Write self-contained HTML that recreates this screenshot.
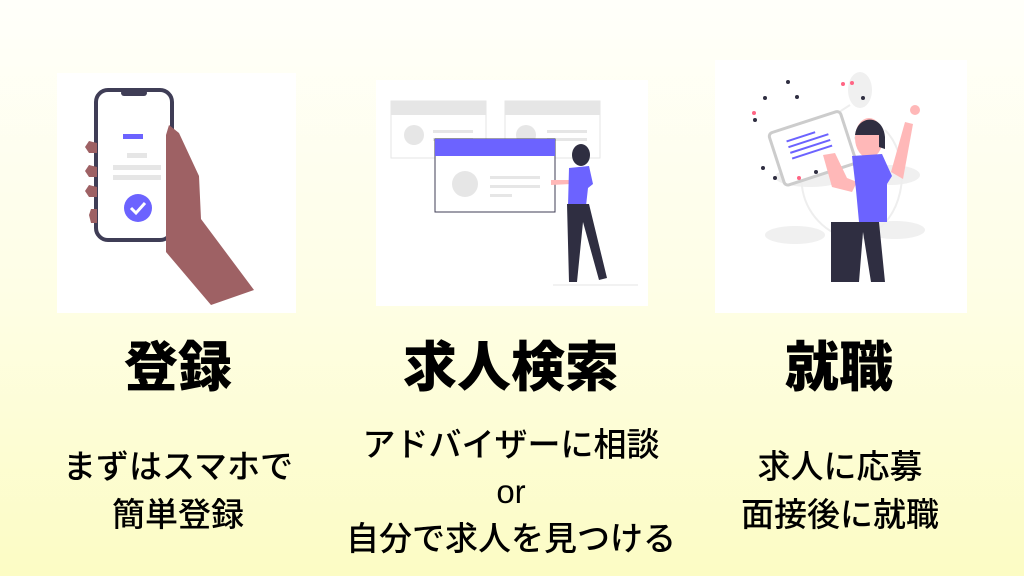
<!DOCTYPE html>
<html><head><meta charset="utf-8"><style>
html,body{margin:0;padding:0}
body{width:1024px;height:576px;overflow:hidden;position:relative;background:linear-gradient(#fffffa 0%,#fefee6 50%,#fcfcc4 100%);font-family:"Liberation Sans","Noto Sans CJK JP",sans-serif;color:#000}
.p{position:absolute;background:#fff}
.t{position:absolute;width:340px;text-align:center;font-weight:900;font-size:54px;line-height:54px;top:341px}
.s{position:absolute;width:380px;text-align:center;font-size:33px;font-weight:500;line-height:48px}
</style></head><body>
<div class="p" style="left:57px;top:73px;width:239px;height:240px">
<svg width="239" height="240" viewBox="0 0 239 240">
<rect x="39" y="17" width="76" height="150" rx="12" fill="#fff" stroke="#3f3d56" stroke-width="4"/>
<rect x="64" y="17" width="26" height="6" rx="3" fill="#3f3d56"/>
<rect x="66" y="61" width="20" height="5" fill="#6c63ff"/>
<rect x="70" y="80" width="20" height="5" fill="#e6e6e6"/>
<rect x="56" y="92" width="48" height="5" fill="#e6e6e6"/>
<rect x="56" y="102" width="48" height="5" fill="#e6e6e6"/>
<circle cx="81" cy="135" r="14" fill="#6c63ff"/>
<path d="M74 135 l5 5 9 -10" stroke="#fff" stroke-width="3" fill="none"/>
<path d="M112 52 l10 8 20 43 2 43 53 71 -43 15 -45 -53 0 -117z" fill="#9e6164"/>
<path d="M40 70 l-8 -2 -4 6 4 6 8 0z M40 94 l-8 -2 -4 6 4 6 8 0z M40 114 l-8 -2 -4 6 4 6 8 0z M40 136 l-6 0 -2 6 2 8 6 0z" fill="#9e6164"/>
</svg></div>
<div class="p" style="left:376px;top:80px;width:272px;height:226px">
<svg width="272" height="226" viewBox="0 0 272 226">
<rect x="15" y="21" width="95" height="57" fill="#fff" stroke="#e6e6e6"/><rect x="15" y="21" width="95" height="14" fill="#e6e6e6"/>
<circle cx="38" cy="55" r="10" fill="#e6e6e6"/><rect x="57" y="50" width="40" height="3" fill="#e6e6e6"/><rect x="57" y="58" width="40" height="3" fill="#e6e6e6"/>
<rect x="129" y="21" width="95" height="57" fill="#fff" stroke="#e6e6e6"/><rect x="129" y="21" width="95" height="14" fill="#e6e6e6"/>
<circle cx="150" cy="55" r="10" fill="#e6e6e6"/><rect x="171" y="50" width="40" height="3" fill="#e6e6e6"/><rect x="171" y="58" width="40" height="3" fill="#e6e6e6"/>
<rect x="59" y="59" width="120" height="73" fill="#fff" stroke="#3f3d56"/><rect x="59" y="59" width="120" height="17" fill="#6c63ff"/>
<circle cx="89" cy="104" r="13" fill="#e6e6e6"/><rect x="114" y="96" width="50" height="3" fill="#e6e6e6"/><rect x="114" y="105" width="50" height="3" fill="#e6e6e6"/><rect x="114" y="114" width="22" height="3" fill="#e6e6e6"/>
<path d="M175 100 l20 0 0 4 -20 1z" fill="#ffb8b8"/>
<ellipse cx="205" cy="75" rx="9" ry="11" fill="#2f2e41"/>
<path d="M193 88 l20 -2 4 18 -5 4 -2 18 -18 0z" fill="#6c63ff"/>
<path d="M191 124 l22 0 18 74 -8 2 -16 -58 -6 60 -8 0z" fill="#2f2e41"/>
<line x1="177" y1="205" x2="262" y2="205" stroke="#e6e6e6"/>
</svg></div>
<div class="p" style="left:715px;top:60px;width:252px;height:253px">
<svg width="252" height="253" viewBox="0 0 252 253">
<ellipse cx="95" cy="117" rx="35" ry="10" fill="#f0f0f0"/><ellipse cx="175" cy="115" rx="30" ry="10" fill="#f0f0f0"/>
<ellipse cx="80" cy="175" rx="30" ry="9" fill="#f0f0f0"/><ellipse cx="180" cy="170" rx="30" ry="9" fill="#f0f0f0"/>
<ellipse cx="145" cy="30" rx="12" ry="18" fill="#f0f0f0"/>
<path d="M135 45 C 60 90 80 170 140 180 C 190 170 200 100 170 70" stroke="#eee" stroke-width="2" fill="none"/>
<g transform="rotate(-18 100 88)"><rect x="60" y="60" width="75" height="55" rx="4" fill="#fff" stroke="#ccc" stroke-width="3"/>
<rect x="75" y="72" width="30" height="2" fill="#6c63ff"/><rect x="75" y="78" width="42" height="2" fill="#6c63ff"/><rect x="75" y="84" width="42" height="2" fill="#6c63ff"/><rect x="75" y="90" width="42" height="2" fill="#6c63ff"/></g>
<g fill="#2f2e41"><circle cx="40" cy="60" r="2"/><circle cx="50" cy="38" r="2"/><circle cx="82" cy="37" r="2"/><circle cx="73" cy="22" r="2"/><circle cx="48" cy="108" r="2"/><circle cx="60" cy="118" r="2"/><circle cx="101" cy="112" r="2"/><circle cx="148" cy="38" r="2"/></g>
<g fill="#ff6584"><circle cx="39" cy="53" r="2"/><circle cx="128" cy="24" r="2"/><circle cx="84" cy="118" r="2"/><circle cx="137" cy="23" r="2"/></g>
<path d="M108 95 l12 -2 12 25 10 4 -5 10 -20 -5z" fill="#ffb8b8"/>
<path d="M176 112 l14 -50 8 2 -10 55z" fill="#ffb8b8"/><circle cx="200" cy="50" r="5" fill="#ffb8b8"/>
<ellipse cx="154" cy="78" rx="14" ry="20" fill="#ffb8b8"/>
<path d="M140 80 c-2 -25 28 -28 30 -3 l0 12 -6 -2 0 -12 -24 0z" fill="#2f2e41"/>
<path d="M137 96 l30 -2 10 22 -5 8 0 38 -28 0 -3 -32z" fill="#6c63ff"/>
<path d="M116 162 l48 0 6 60 -14 0 -8 -50 -4 50 -28 0z" fill="#2f2e41"/>
</svg></div>
<div class="t" style="left:8px">登録</div>
<div class="t" style="left:341px">求人検索</div>
<div class="t" style="left:669px">就職</div>
<div class="s" style="left:-12px;top:443px">まずはスマホで<br>簡単登録</div>
<div class="s" style="left:321px;top:421px;line-height:47px">アドバイザーに相談<br>or<br>自分で求人を見つける</div>
<div class="s" style="left:650px;top:443px">求人に応募<br>面接後に就職</div>
</body></html>
